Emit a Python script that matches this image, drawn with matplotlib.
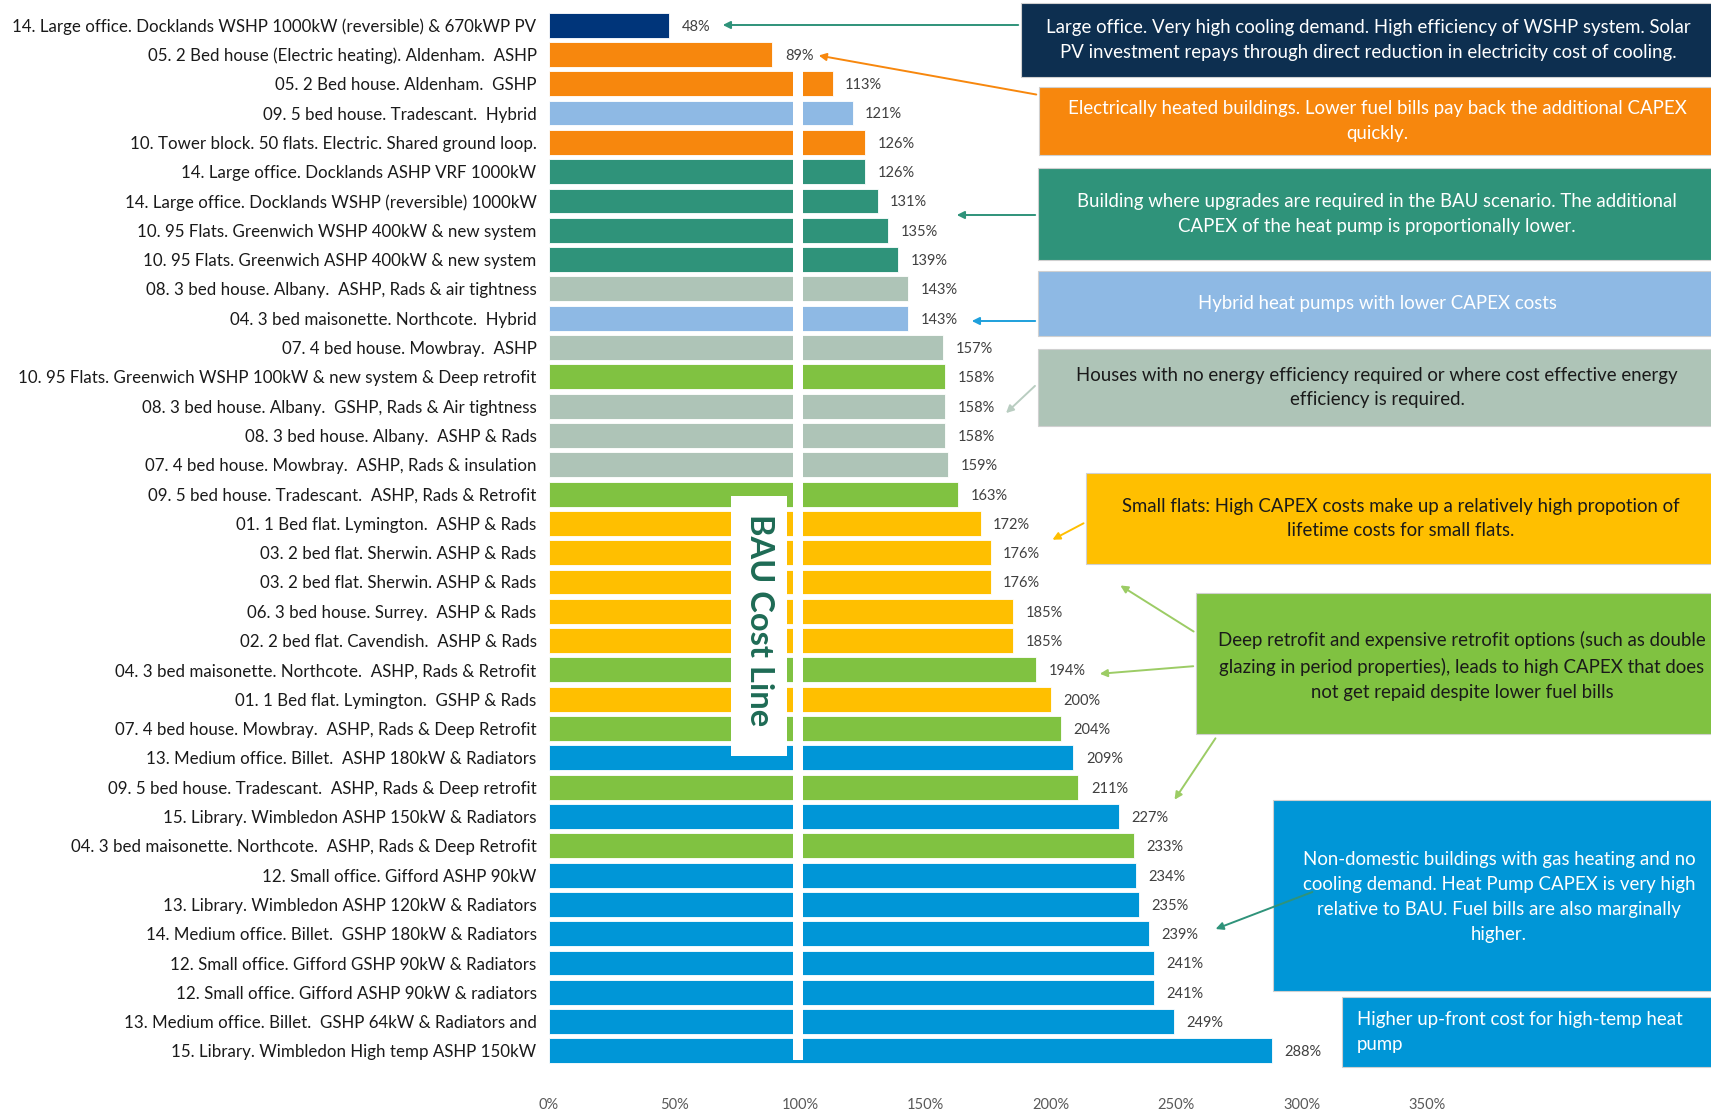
import numpy as np
import matplotlib.pyplot as plt
from matplotlib.patches import Rectangle, FancyArrowPatch

plt.rcParams['font.family'] = ['Lato', 'DejaVu Sans']

# lifetime cost of each heat pump option relative to business-as-usual (%)
labels = [
    "14. Large office. Docklands WSHP 1000kW (reversible) & 670kWP PV",
    "05. 2 Bed house (Electric heating). Aldenham.  ASHP",
    "05. 2 Bed house. Aldenham.  GSHP",
    "09. 5 bed house. Tradescant.  Hybrid",
    "10. Tower block. 50 flats. Electric. Shared ground loop.",
    "14. Large office. Docklands ASHP VRF 1000kW",
    "14. Large office. Docklands WSHP (reversible) 1000kW",
    "10. 95 Flats. Greenwich WSHP 400kW & new system",
    "10. 95 Flats. Greenwich ASHP 400kW & new system",
    "08. 3 bed house. Albany.  ASHP, Rads & air tightness",
    "04. 3 bed maisonette. Northcote.  Hybrid",
    "07. 4 bed house. Mowbray.  ASHP",
    "10. 95 Flats. Greenwich WSHP 100kW & new system & Deep retrofit",
    "08. 3 bed house. Albany.  GSHP, Rads & Air tightness",
    "08. 3 bed house. Albany.  ASHP & Rads",
    "07. 4 bed house. Mowbray.  ASHP, Rads & insulation",
    "09. 5 bed house. Tradescant.  ASHP, Rads & Retrofit",
    "01. 1 Bed flat. Lymington.  ASHP & Rads",
    "03. 2 bed flat. Sherwin. ASHP & Rads",
    "03. 2 bed flat. Sherwin. ASHP & Rads",
    "06. 3 bed house. Surrey.  ASHP & Rads",
    "02. 2 bed flat. Cavendish.  ASHP & Rads",
    "04. 3 bed maisonette. Northcote.  ASHP, Rads & Retrofit",
    "01. 1 Bed flat. Lymington.  GSHP & Rads",
    "07. 4 bed house. Mowbray.  ASHP, Rads & Deep Retrofit",
    "13. Medium office. Billet.  ASHP 180kW & Radiators",
    "09. 5 bed house. Tradescant.  ASHP, Rads & Deep retrofit",
    "15. Library. Wimbledon ASHP 150kW & Radiators",
    "04. 3 bed maisonette. Northcote.  ASHP, Rads & Deep Retrofit",
    "12. Small office. Gifford ASHP 90kW",
    "13. Library. Wimbledon ASHP 120kW & Radiators",
    "14. Medium office. Billet.  GSHP 180kW & Radiators",
    "12. Small office. Gifford GSHP 90kW & Radiators",
    "12. Small office. Gifford ASHP 90kW & radiators",
    "13. Medium office. Billet.  GSHP 64kW & Radiators and",
    "15. Library. Wimbledon High temp ASHP 150kW",
]
values = [48, 89, 113, 121, 126, 126, 131, 135, 139, 143, 143, 157, 158, 158,
          158, 159, 163, 172, 176, 176, 185, 185, 194, 200, 204, 209, 211, 227,
          233, 234, 235, 239, 241, 241, 249, 288]
groups = ["pv", "elec", "elec", "hybrid", "elec", "bau", "bau", "bau", "bau",
          "house", "hybrid", "house", "retro", "house", "house", "house",
          "retro", "flat", "flat", "flat", "flat", "flat", "retro", "flat",
          "retro", "nondom", "retro", "nondom", "retro", "nondom", "nondom",
          "nondom", "nondom", "nondom", "nondom", "nondom"]

colours = {
    "pv": "#00357a",
    "elec": "#f7870d",
    "hybrid": "#8eb9e4",
    "bau": "#2f937a",
    "house": "#aec4b7",
    "retro": "#80c241",
    "flat": "#ffbf00",
    "nondom": "#0096d7",
}
xticks = [0, 50, 100, 150, 200, 250, 300, 350]
bau_cost = 100

W, H = 1711, 1113
fig = plt.figure(figsize=(W / 100, H / 100), dpi=100)
ax = fig.add_axes([549 / W, (H - 1080) / H, 1 - 549 / W, 1080 / H])

y = np.arange(len(values))
ax.barh(y, values, height=0.85, color=[colours[g] for g in groups],
        edgecolor="white", linewidth=0.6, zorder=2)
for yi, v in zip(y, values):
    ax.text(v + 5.0, yi + 0.05, f"{v}%", va="center", ha="left",
            fontsize=10.5, color="#404040", zorder=3)

ax.set_xlim(0, (W - 549) / 2.509)
ax.set_ylim((1080 - 25.1) / 29.31, -25.1 / 29.31)
ax.set_yticks(y)
ax.set_yticklabels(labels, fontsize=12.2, color="#1a1a1a")
ax.set_xticks(xticks)
ax.set_xticklabels([f"{t}%" for t in xticks], fontsize=10.5, color="#595959")
ax.tick_params(axis="y", length=0, pad=9)
ax.tick_params(axis="x", length=0, pad=13)
for s in ax.spines.values():
    s.set_visible(False)

# BAU cost line cut through the bars, with its label box
ax.fill_betweenx([1.55, 35.3], bau_cost - 2.8, bau_cost + 1.2,
                 color="white", zorder=4, linewidth=0)
ax.add_patch(Rectangle((72.6, 16.08), 22.3, 8.86, facecolor="white",
                       edgecolor="none", zorder=5))
ax.text(83.7, 20.3, "BAU Cost Line", rotation=-90, ha="center", va="center",
        fontsize=23.5, fontweight="bold", color="#1e6b55", zorder=6)


def fx(px):
    return px / W


def fy(py):
    return 1 - py / H


def note(x0, y0, x1, y1, face, text, colour, tx=None, ty=None, ha="center",
         size=13.4):
    fig.add_artist(Rectangle((fx(x0), fy(y1)), fx(x1) - fx(x0),
                             fy(y0) - fy(y1), transform=fig.transFigure,
                             facecolor=face, edgecolor="#d0d0d0",
                             linewidth=0.8, zorder=7))
    tx = (x0 + x1) / 2 if tx is None else tx
    ty = (y0 + y1) / 2 if ty is None else ty
    fig.text(fx(tx), fy(ty), text, ha=ha, va="center", multialignment=ha,
             fontsize=size, color=colour, linespacing=1.57, zorder=8)


def arrow(tail, head, colour):
    fig.add_artist(FancyArrowPatch(
        (fx(tail[0]), fy(tail[1])), (fx(head[0]), fy(head[1])),
        transform=fig.transFigure, arrowstyle="-|>", mutation_scale=11,
        color=colour, linewidth=1.4, zorder=9))


note(1021, 3, 1711 + 5, 77, "#0d2f50",
     "Large office. Very high cooling demand. High efficiency of WSHP system. Solar\n"
     "PV investment repays through direct reduction in electricity cost of cooling.",
     "white")
arrow((1021, 25), (720, 25), "#2f937a")

note(1039, 87, 1711 + 5, 155, "#f7870d",
     "Electrically heated buildings. Lower fuel bills pay back the additional CAPEX\n"
     "quickly.", "white")
arrow((1039, 95), (816, 55), "#f7870d")

note(1038, 168, 1711 + 5, 260, "#2f937a",
     "Building where upgrades are required in the BAU scenario. The additional\n"
     "CAPEX of the heat pump is proportionally lower.", "white")
arrow((1038, 215), (954, 215), "#2f937a")

note(1038, 271, 1711 + 5, 336, "#8eb9e4",
     "Hybrid heat pumps with lower CAPEX costs", "white")
arrow((1038, 321), (969, 321), "#1ea0dc")

note(1038, 349, 1711 + 5, 426, "#aec4b7",
     "Houses with no energy efficiency required or where cost effective energy\n"
     "efficiency is required.", "#1a1a1a")
arrow((1037, 384), (1004, 415), "#b9cdc1")

note(1086, 473, 1711 + 5, 564, "#ffbf00",
     "Small flats: High CAPEX costs make up a relatively high propotion of\n"
     "lifetime costs for small flats.", "#1a1a1a")
arrow((1086, 522), (1050, 541), "#ffbf00")

note(1196, 593, 1711 + 5, 734, "#80c241",
     "Deep retrofit and expensive retrofit options (such as double\n"
     "glazing in period properties), leads to high CAPEX that does\n"
     "not get repaid despite lower fuel bills", "#1a1a1a", tx=1462, ty=666)
arrow((1196, 633), (1118, 584), "#9ccc65")
arrow((1196, 666), (1097, 674), "#9ccc65")
arrow((1217, 736), (1173, 802), "#9ccc65")

note(1273, 800, 1711 + 5, 991, "#0096d7",
     "Non-domestic buildings with gas heating and no\n"
     "cooling demand. Heat Pump CAPEX is very high\n"
     "relative to BAU. Fuel bills are also marginally\n"
     "higher.", "white", tx=1499, ty=897)
arrow((1315, 891), (1213, 930), "#2f937a")

note(1342, 997, 1711 + 5, 1067, "#0096d7",
     "Higher up-front cost for high-temp heat\npump", "white",
     tx=1357, ty=1032, ha="left")

fig.savefig("out.png", dpi=100)
